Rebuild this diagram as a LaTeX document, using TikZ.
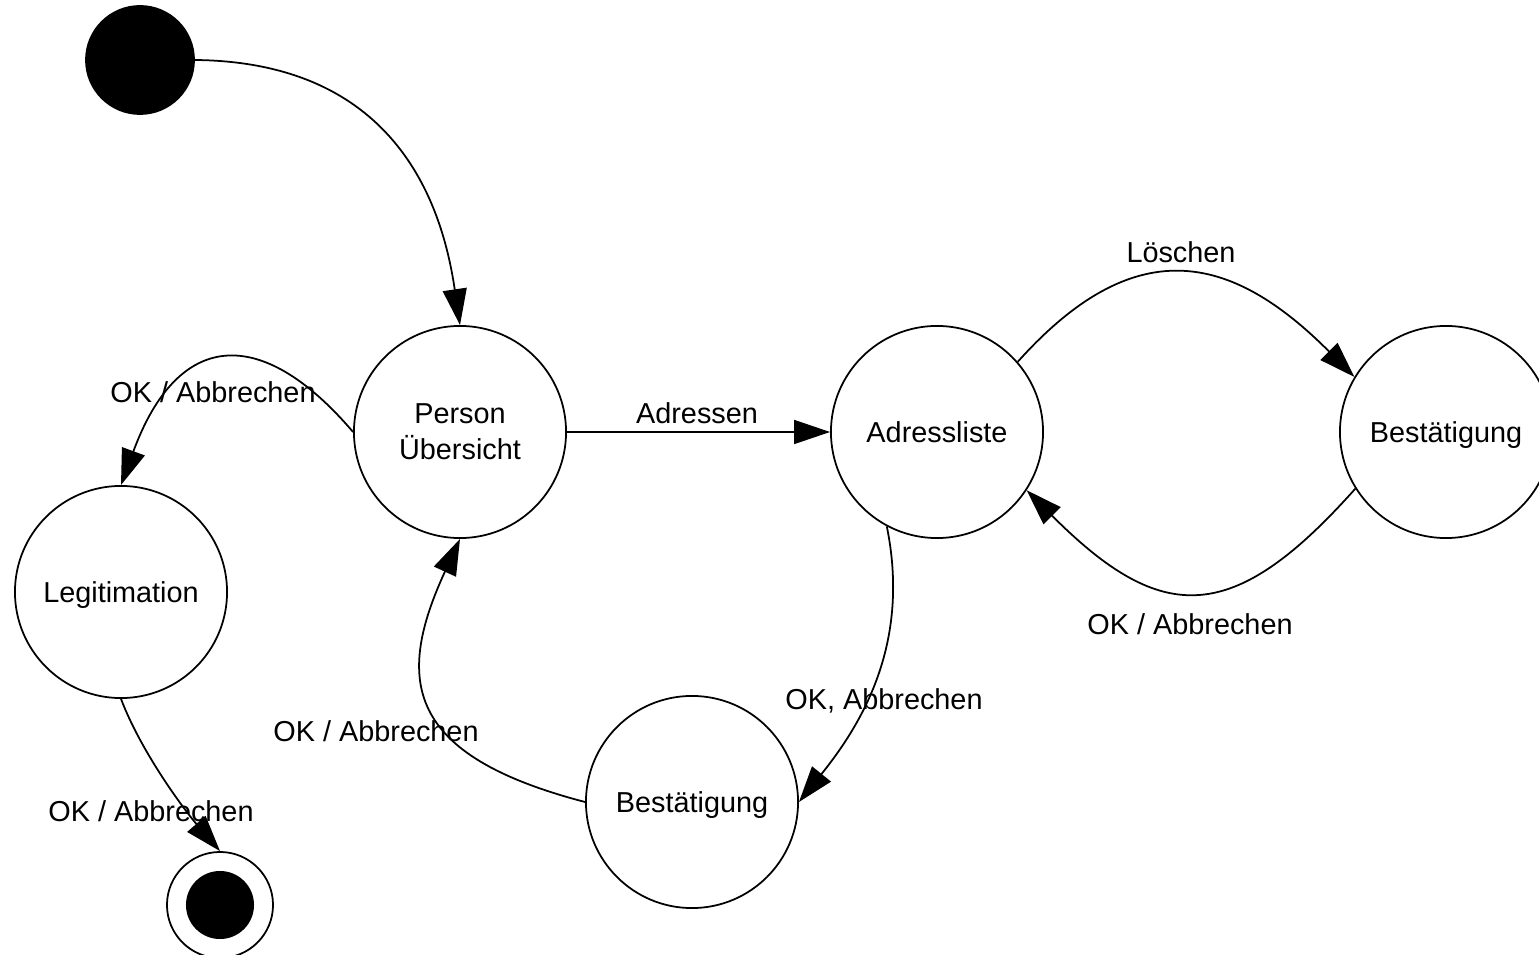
\documentclass[tikz,border=0pt]{standalone}
\usepackage{fontspec}
\setmainfont{Liberation Sans}
\usetikzlibrary{arrows.meta}

\begin{document}
\begin{tikzpicture}[x=0.01cm, y=0.01cm, line width=0.5pt,
        font=\fontsize{8.2}{10.2}\selectfont,
        state/.style={circle, draw, minimum size=2.12cm, inner sep=0pt},
        trans/.style={-{Triangle[length=0.36cm, width=0.24cm]}},
        lbl/.style={anchor=base, inner sep=0pt}]
        \useasboundingbox (0,0) rectangle (1539,-955);

        % states
        \node[circle, draw, fill, minimum size=1.08cm, inner sep=0pt] (start) at (140,-60) {};
        \node[state, align=center] (person) at (460,-432) {Person\\Übersicht};
        \node[state, text depth=0pt] (adr) at (937,-432) {Adressliste};
        \node[state, text depth=0pt] (bestR) at (1446,-432) {Bestätigung};
        \node[state, text depth=0pt] (bestU) at (692,-802) {Bestätigung};
        \node[state, text depth=0pt] (legit) at (121,-592) {Legitimation};
        \node[circle, draw, minimum size=1.06cm, inner sep=0pt] (ende) at (220,-905) {};
        \fill (ende.center) circle (0.34cm);

        % transitions
        \draw[trans] (start.east) .. controls (400,-62) and (443,-210) .. (person.north);
        \draw[trans] (person.east) -- (adr.west);
        \draw[trans] (adr.41) .. controls (1134,-232) and (1230,-252) .. (bestR.149);
        \draw[trans] (bestR.212) .. controls (1233,-626) and (1162,-626) .. (adr.-33);
        \draw[trans] (adr.-118) .. controls (910,-640) and (865,-720) .. (bestU.east);
        \draw[trans] (bestU.west) .. controls (405,-755) and (395,-680) .. (person.south);
        \draw[trans] (person.west) .. controls (261,-324) and (178,-330) .. (legit.north);
        \draw[trans] (legit.south) .. controls (142,-754) and (186,-812) .. (ende.north);

        % labels
        \node[lbl] (lAdressen) at (697,-424) {Adressen};
        \node[lbl] (lLoeschen) at (1181,-263) {Löschen};
        \node[lbl] (lOkR) at (1190,-635) {OK / Abbrechen};
        \node[lbl] (lOkU) at (884,-709) {OK, Abbrechen};
        \node[lbl] (lOkL) at (376,-741) {OK / Abbrechen};
        \node[lbl] (lOkP) at (213,-403) {OK / Abbrechen};
        \node[lbl] (lOkE) at (151,-821) {OK / Abbrechen};

    \end{tikzpicture}
\end{document}
